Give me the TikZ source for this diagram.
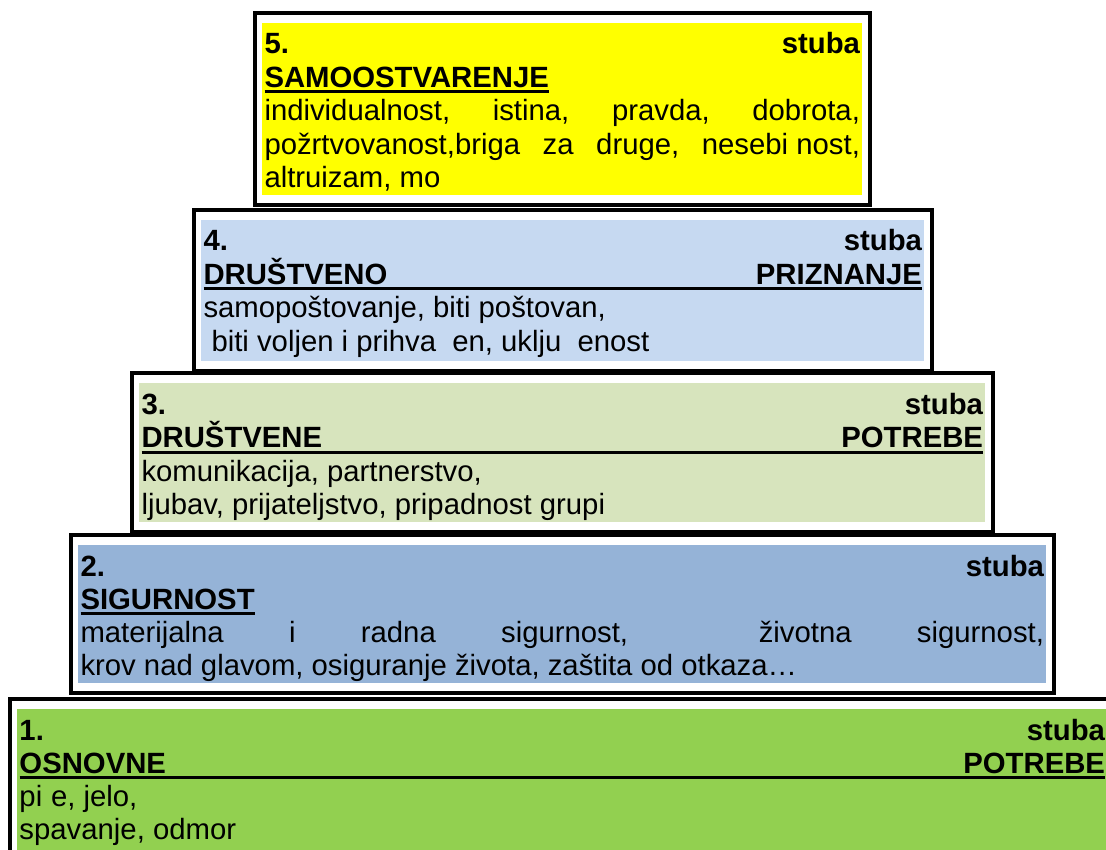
\documentclass[tikz,border=0pt]{standalone}
\usepackage{fontspec}
\setmainfont{Liberation Sans}
\definecolor{c5}{HTML}{FFFF00}
\definecolor{c4}{HTML}{C6D9F1}
\definecolor{c3}{HTML}{D7E4BD}
\definecolor{c2}{HTML}{95B3D7}
\definecolor{c1}{HTML}{92D050}
\begin{document}
\begin{tikzpicture}[x=1pt,y=-1pt,
  frame/.style={draw=black,line width=4pt,fill=white},
  txt/.style={anchor=base west,inner sep=0pt,outer sep=0pt,font=\fontsize{29.3}{33}\selectfont},
  hd/.style={anchor=base west,inner sep=0pt,outer sep=0pt,font=\fontsize{29.3}{33}\selectfont\bfseries},
  uline/.style={line width=3pt}]
\useasboundingbox (0,0) rectangle (1106,850);
\clip (0,0) rectangle (1106,850);
% frames and fills
\draw[frame] (255,13) rectangle (870,205);
\fill[c5] (262,23) rectangle (862,195);
\draw[frame] (194,210) rectangle (932,371);
\fill[c4] (201,220) rectangle (924,361);
\draw[frame] (132,373) rectangle (993,532);
\fill[c3] (139,383) rectangle (985,522);
\draw[frame] (71,535) rectangle (1054,693);
\fill[c2] (78,545) rectangle (1046,683);
\draw[frame] (10,699) rectangle (1117,880);
\fill[c1] (17,709) rectangle (1109,870);
% box 5
\node[hd] (t5a) at (264.5,54) {\hbox to 595.5pt{5.\hfill stuba}};
\node[hd] (t5b) at (264.5,87.5) {SAMOOSTVARENJE};
\draw[uline] ([yshift=-4.5pt]t5b.base west) -- ([yshift=-4.5pt]t5b.base east);
\node[txt] (t5c) at (264.5,121) {\hbox to 595.5pt{individualnost,\hfill istina,\hfill pravda,\hfill dobrota,}};
\node[txt] (t5d) at (264.5,154.5) {\hbox to 595.5pt{požrtvovanost,briga\hfill za\hfill druge,\hfill nesebi\kern0.28em nost,}};
\node[txt] (t5e) at (264.5,188) {altruizam, mo};
% box 4
\node[hd] (t4a) at (203.5,251) {\hbox to 718.5pt{4.\hfill stuba}};
\node[hd] (t4b) at (203.5,284.5) {\hbox to 718.5pt{DRUŠTVENO\hfill PRIZNANJE}};
\draw[uline] ([yshift=-4.5pt]t4b.base west) -- ([yshift=-4.5pt]t4b.base east);
\node[txt] (t4c) at (203.5,318) {samopoštovanje, biti poštovan,};
\node[txt] (t4d) at (211.5,351.5) {biti voljen i prihva\kern0.55em en, uklju\kern0.55em enost};
% box 3
\node[hd] (t3a) at (141.5,414) {\hbox to 841.5pt{3.\hfill stuba}};
\node[hd] (t3b) at (141.5,447.5) {\hbox to 841.5pt{DRUŠTVENE\hfill POTREBE}};
\draw[uline] ([yshift=-4.5pt]t3b.base west) -- ([yshift=-4.5pt]t3b.base east);
\node[txt] (t3c) at (141.5,481) {komunikacija, partnerstvo,};
\node[txt] (t3d) at (141.5,514.5) {ljubav, prijateljstvo, pripadnost grupi};
% box 2
\node[hd] (t2a) at (80.5,576) {\hbox to 963.5pt{2.\hfill stuba}};
\node[hd] (t2b) at (80.5,609) {SIGURNOST};
\draw[uline] ([yshift=-4.5pt]t2b.base west) -- ([yshift=-4.5pt]t2b.base east);
\node[txt] (t2c) at (80.5,642) {\hbox to 963.5pt{materijalna\hfill i\hfill radna\hfill sigurnost,\hfill\hfill životna\hfill sigurnost,}};
\node[txt] (t2d) at (80.5,675) {krov nad glavom, osiguranje života, zaštita od otkaza…};
% box 1
\node[hd] (t1a) at (19.5,740) {\hbox to 1085.5pt{1.\hfill stuba}};
\node[hd] (t1b) at (19.5,773) {\hbox to 1085.5pt{OSNOVNE\hfill POTREBE}};
\draw[uline] ([yshift=-4.5pt]t1b.base west) -- ([yshift=-4.5pt]t1b.base east);
\node[txt] (t1c) at (19.5,806) {pi\kern0.3em e, jelo,};
\node[txt] (t1d) at (19.5,839) {spavanje, odmor};
\end{tikzpicture}
\end{document}
